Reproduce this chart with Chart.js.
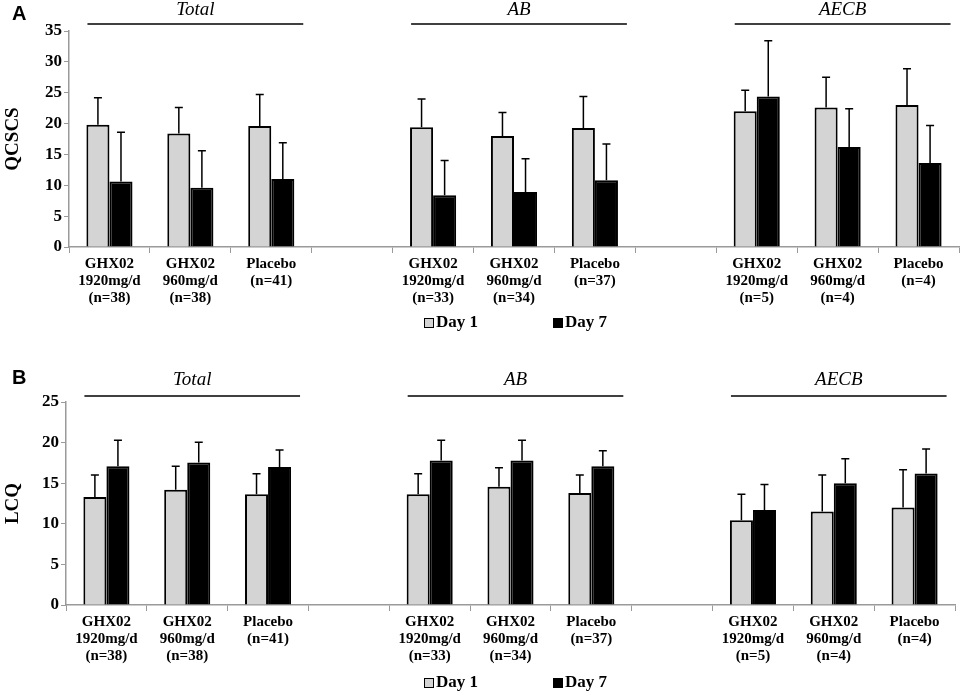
<!DOCTYPE html>
<html>
<head>
<meta charset="utf-8">
<script src="https://cdn.jsdelivr.net/npm/chart.js@4.4.1/dist/chart.umd.min.js"></script>
<style>
  body { margin: 0; background: #fff; }
  .panel { position: absolute; left: 0; width: 962px; }
</style>
</head>
<body>
<div class="panel" style="top:0;height:340px"><canvas id="chartA" width="962" height="340"></canvas></div>
<div class="panel" style="top:340px;height:355px"><canvas id="chartB" width="962" height="355"></canvas></div>
<script>
// categories (empty strings are the gaps between subgroups)
var categories = [
  ["GHX02", "1920mg/d", "(n=38)"], ["GHX02", "960mg/d", "(n=38)"], ["Placebo", "(n=41)"], "",
  ["GHX02", "1920mg/d", "(n=33)"], ["GHX02", "960mg/d", "(n=34)"], ["Placebo", "(n=37)"], "",
  ["GHX02", "1920mg/d", "(n=5)"], ["GHX02", "960mg/d", "(n=4)"], ["Placebo", "(n=4)"]
];
var groups = ["Total", "AB", "AECB"];
var groupStart = [0, 4, 8];
var groupEnd = [2, 6, 10];

// panel A: QCSCS (mean and SD)
var qcscsDay1 = [19.8, 18.4, 19.6, null, 19.4, 18.0, 19.3, null, 22.0, 22.6, 23.0];
var qcscsDay1Sd = [4.4, 4.2, 5.1, null, 4.6, 3.8, 5.1, null, 3.4, 4.9, 5.9];
var qcscsDay7 = [10.6, 9.6, 11.0, null, 8.4, 8.9, 10.8, null, 24.4, 16.2, 13.6];
var qcscsDay7Sd = [8.0, 6.0, 5.9, null, 5.6, 5.4, 5.9, null, 9.0, 6.2, 6.1];

// panel B: LCQ (mean and SD)
var lcqDay1 = [13.3, 14.2, 13.65, null, 13.65, 14.55, 13.8, null, 10.45, 11.5, 12.0];
var lcqDay1Sd = [2.7, 2.9, 2.5, null, 2.5, 2.35, 2.2, null, 3.2, 4.5, 4.65];
var lcqDay7 = [17.1, 17.55, 17.0, null, 17.8, 17.8, 17.1, null, 11.7, 15.0, 16.2];
var lcqDay7Sd = [3.2, 2.5, 2.1, null, 2.5, 2.5, 1.9, null, 3.15, 3.0, 3.0];

var serif = "'Liberation Serif', 'Times New Roman', serif";

// error bars, group headers, panel letter and legend
var decor = {
  id: "decor",
  afterDatasetsDraw: function (chart, args, opts) {
    var ctx = chart.ctx;
    var y = chart.scales.y;
    var x = chart.scales.x;
    ctx.save();
    ctx.strokeStyle = "#000";
    ctx.lineWidth = 1.5;
    chart.data.datasets.forEach(function (ds, di) {
      var meta = chart.getDatasetMeta(di);
      ds.data.forEach(function (v, i) {
        if (v === null) return;
        var bar = meta.data[i];
        var top = y.getPixelForValue(v + ds.sd[i]);
        ctx.beginPath();
        ctx.moveTo(bar.x, bar.y);
        ctx.lineTo(bar.x, top);
        ctx.moveTo(bar.x - 4, top);
        ctx.lineTo(bar.x + 4, top);
        ctx.stroke();
      });
    });

    // subgroup headers
    ctx.fillStyle = "#000";
    ctx.lineWidth = 1.5;
    ctx.textAlign = "center";
    ctx.textBaseline = "middle";
    groups.forEach(function (g, k) {
      var x0 = x.getPixelForValue(groupStart[k]) - 22;
      var x1 = x.getPixelForValue(groupEnd[k]) + 32;
      ctx.beginPath();
      ctx.moveTo(x0, opts.lineY);
      ctx.lineTo(x1, opts.lineY);
      ctx.stroke();
      ctx.font = "italic 19px " + serif;
      ctx.fillText(g, (x0 + x1) / 2, opts.textY);
    });

    // panel letter
    ctx.textAlign = "left";
    ctx.font = "bold 20px 'Liberation Sans', Arial, sans-serif";
    ctx.fillText(opts.letter, 12, opts.letterY);

    // legend
    var cx = chart.width / 2;
    var items = [{ x: cx - 57 }, { x: cx + 72 }];
    ctx.font = "bold 17px " + serif;
    chart.data.datasets.forEach(function (ds, di) {
      var bx = items[di].x;
      ctx.fillStyle = ds.backgroundColor;
      ctx.fillRect(bx, opts.legendY - 5, 10, 10);
      ctx.lineWidth = 1;
      ctx.strokeStyle = "#000";
      ctx.strokeRect(bx + 0.5, opts.legendY - 4.5, 9, 9);
      ctx.fillStyle = "#000";
      ctx.fillText(ds.label, bx + 12, opts.legendY);
    });
    ctx.restore();
  }
};

function makeChart(id, title, d1, d1sd, d7, d7sd, ymax, pad, yWidth, xHeight, deco) {
  return new Chart(document.getElementById(id), {
    type: "bar",
    data: {
      labels: categories,
      datasets: [
        { label: "Day 1", data: d1, sd: d1sd, backgroundColor: "#d4d4d4", borderColor: "#000", borderWidth: 2 },
        { label: "Day 7", data: d7, sd: d7sd, backgroundColor: "#000", borderColor: "#000", borderWidth: 2 }
      ]
    },
    options: {
      responsive: false,
      animation: false,
      events: [],
      layout: { padding: pad },
      datasets: { bar: { categoryPercentage: 0.57, barPercentage: 1.0 } },
      plugins: {
        legend: { display: false },
        tooltip: { enabled: false },
        decor: deco
      },
      scales: {
        x: {
          grid: { drawOnChartArea: false, tickLength: 6, color: "#9a9a9a" },
          border: { color: "#9a9a9a", width: 1.5 },
          ticks: { color: "#000", font: { family: serif, size: 15, weight: "bold", lineHeight: 1.13 },
                   maxRotation: 0, autoSkip: false, padding: 3 },
          afterFit: function (s) { s.height = xHeight; }
        },
        y: {
          min: 0, max: ymax,
          grid: { drawOnChartArea: false, tickLength: 5, color: "#9a9a9a" },
          border: { color: "#9a9a9a", width: 1.5 },
          ticks: { stepSize: 5, color: "#000", font: { family: serif, size: 17, weight: "bold" }, padding: 2 },
          title: { display: true, text: title, color: "#000", font: { family: serif, size: 19, weight: "bold" }, padding: { top: 2 } },
          afterFit: function (s) { s.width = yWidth; }
        }
      }
    },
    plugins: [decor]
  });
}

makeChart("chartA", "QCSCS", qcscsDay1, qcscsDay1Sd, qcscsDay7, qcscsDay7Sd, 35,
  { top: 31, right: 3, left: 0, bottom: 0 }, 69, 93,
  { lineY: 24, textY: 10, letter: "A", letterY: 14, legendY: 323 });
makeChart("chartB", "LCQ", lcqDay1, lcqDay1Sd, lcqDay7, lcqDay7Sd, 25,
  { top: 62, right: 7, left: 0, bottom: 0 }, 66, 90,
  { lineY: 56, textY: 40, letter: "B", letterY: 38, legendY: 343 });
</script>
</body>
</html>
